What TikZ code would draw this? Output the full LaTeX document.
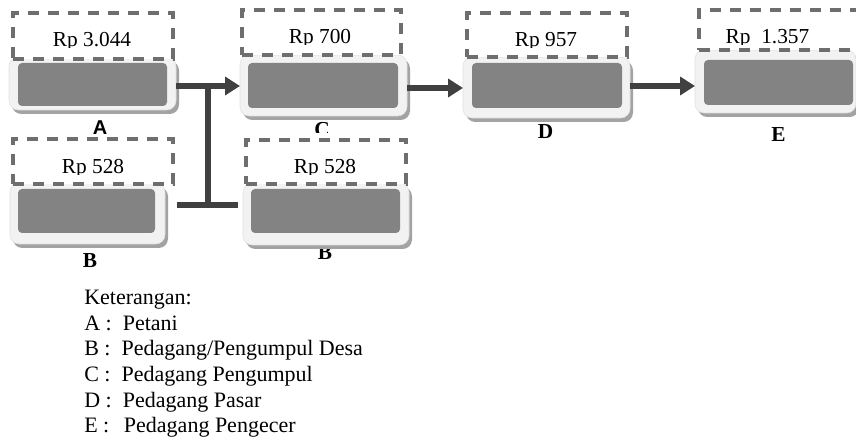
\documentclass[tikz,border=0pt]{standalone}
\usepackage{fontspec}
\setmainfont{Liberation Serif}
\newfontfamily\lsans{Liberation Sans}
\usetikzlibrary{arrows.meta,shadows}
\definecolor{conncol}{HTML}{404040}
\definecolor{dashcol}{HTML}{6E6E6E}
\definecolor{innercol}{HTML}{838383}
\definecolor{outercol}{HTML}{F2F2F2}
\definecolor{shadowcol}{HTML}{A3A3A3}
\begin{document}
\begin{tikzpicture}[x=0.75pt,y=-0.75pt,
  sz/.style 2 args={minimum width=#1*0.75pt,minimum height=#2*0.75pt},
  obox/.style={shape=rectangle,rounded corners=7pt,fill=outercol,draw=black!12,line width=0.4pt,inner sep=0pt,outer sep=0pt,
    drop shadow={shadow xshift=2.25pt,shadow yshift=-3pt,fill=shadowcol,opacity=1}},
  ibox/.style={shape=rectangle,rounded corners=3pt,fill=innercol,inner sep=0pt,outer sep=0pt},
  dbox/.style={shape=rectangle,draw=dashcol,fill=white,line width=2.4pt,dash pattern=on 8.25pt off 6.75pt,inner sep=0pt,outer sep=0pt},
  price/.style={anchor=base,inner sep=0pt,font=\fontsize{16}{19}\selectfont},
  lab/.style={anchor=base,inner sep=0pt,font=\fontsize{16}{18}\selectfont\bfseries},
  labsans/.style={anchor=base,inner sep=0pt,font=\fontsize{15}{18}\selectfont\lsans\bfseries},
  leg/.style={anchor=base west,inner sep=0pt,font=\fontsize{16.5}{19}\selectfont},
  conn/.style={draw=conncol,line width=4.5pt},
  arr/.style={-{Triangle[length=11.25pt,width=13.5pt]}}
]
\useasboundingbox (0,0) rectangle (856,441);
\clip (0,0) rectangle (856,441);
\fill[white] (0,0) rectangle (856,441);

% stage labels (drawn first, boxes overlap them)
\node[labsans] (lA) at (100,135) {A};
\node[lab] (lB) at (90,268) {B};
\node[lab] (lB2) at (325,260) {B};
\begin{scope}
  \clip (300,121) rectangle (345,133);
  \node[lab] (lC) at (322,137) {C};
\end{scope}
\node[lab] (lD) at (545.5,139) {D};
\node[lab] (lE) at (778.5,142) {E};

% outer boxes
\node[obox,sz={167}{53}] (A) at (92.5,83.5) {};
\node[obox,sz={155}{61}] (B) at (87.5,213.5) {};
\node[obox,sz={167}{61}] (C) at (323.5,85.5) {};
\node[obox,sz={166}{62}] (B2) at (326,214) {};
\node[obox,sz={167}{61}] (D) at (546.5,87.5) {};
\node[obox,sz={161}{63}] (E) at (775.5,81.5) {};

% inner boxes
\node[ibox,sz={149}{43}] (Ai) at (92.5,84.5) {};
\node[ibox,sz={137}{44}] (Bi) at (86.5,211) {};
\node[ibox,sz={150}{45}] (Ci) at (323,85.5) {};
\node[ibox,sz={149}{44}] (B2i) at (325.5,211) {};
\node[ibox,sz={150}{45}] (Di) at (547,85.5) {};
\node[ibox,sz={149}{45}] (Ei) at (778.5,82.5) {};

% dashed price boxes
\node[dbox,sz={160}{46}] (dA) at (93,36) {};
\node[dbox,sz={160}{45}] (dB) at (93,161.5) {};
\node[dbox,sz={159}{45}] (dC) at (321.5,32.5) {};
\node[dbox,sz={160}{44}] (dB2) at (326,162) {};
\node[dbox,sz={160}{44}] (dD) at (547,35) {};
\node[dbox,sz={181}{40}] (dE) at (789.5,30) {};

% prices (descenders cut as in the reference)
\begin{scope}\clip (13,13) rectangle (173,48);
  \node[price] (pA) at (92,46.5) {Rp 3.044};\end{scope}
\begin{scope}\clip (13,139) rectangle (173,174.5);
  \node[price] (pB) at (93,173.3) {Rp 528};\end{scope}
\begin{scope}\clip (242,10) rectangle (401,44.5);
  \node[price] (pC) at (320,43.3) {Rp 700};\end{scope}
\begin{scope}\clip (246,140) rectangle (406,174.5);
  \node[price] (pB2) at (325,173.3) {Rp 528};\end{scope}
\begin{scope}\clip (467,13) rectangle (627,47.5);
  \node[price] (pD) at (546,46.2) {Rp 957};\end{scope}
\begin{scope}\clip (699,10) rectangle (856,44.5);
  \node[price] (pE) at (767.5,43.3) {Rp\ \ 1.357};\end{scope}

% connectors
\coordinate (jt) at (208,86);
\coordinate (jb) at (208,205);
\coordinate (cd) at (436,88);
\coordinate (de) at (664,86);
\draw[conn,arr] (A.east |- jt) -- (C.west |- jt);
\draw[conn] (jt) -- (jb);
\draw[conn,shorten <=9pt,shorten >=3.75pt] (B.east |- jb) -- (B2.west |- jb);
\draw[conn,arr] (C.east |- cd) -- (D.west |- cd);
\draw[conn,arr] (D.east |- de) -- (E.west |- de);

% legend
\node[leg] (k0) at (84,305) {Keterangan:};
\node[leg] (k1) at (84,330) {A :\ \ Petani};
\node[leg] (k2) at (84,355) {B :\ \ Pedagang/Pengumpul Desa};
\node[leg] (k3) at (84,381) {C :\ \ Pedagang Pengumpul};
\node[leg] (k4) at (84,407) {D :\ \ Pedagang Pasar};
\node[leg] (k5) at (84,432) {E :\ \ \,Pedagang Pengecer};
\end{tikzpicture}
\end{document}
